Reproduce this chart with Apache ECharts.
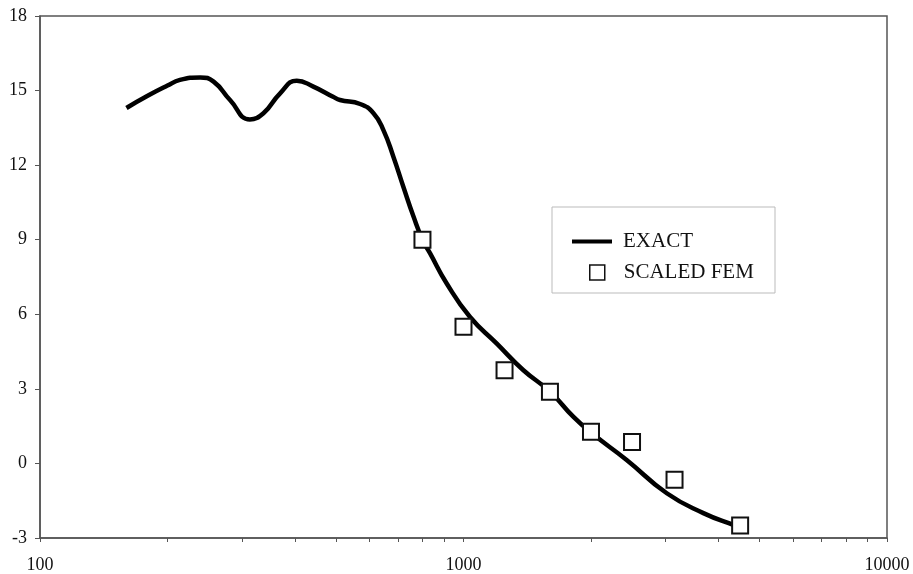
<!DOCTYPE html>
<html>
<head>
<meta charset="utf-8">
<script src="https://cdn.jsdelivr.net/npm/echarts@6/dist/echarts.min.js"></script>
<style>
  html, body { margin: 0; padding: 0; background: #fff; }
  #chart { width: 913px; height: 574px; }
</style>
</head>
<body>
<div id="chart"></div>
<script>
// Exact response curve: frequency (Hz) and level
const exactFreq = [160, 180, 200, 214, 239, 257, 281, 313, 337, 369, 404, 442, 492, 511, 570, 613, 647, 683, 721, 762, 800, 834, 912, 1035, 1197, 1383, 1600, 1816, 2010, 2428, 3020, 3685, 4335, 4500];
const exactLevel = [14.3, 14.8, 15.2, 15.43, 15.53, 15.36, 14.62, 13.84, 14.09, 14.89, 15.4, 15.16, 14.75, 14.62, 14.46, 14.09, 13.41, 12.34, 11.13, 9.93, 9.0, 8.45, 7.25, 5.9, 4.83, 3.76, 2.89, 1.88, 1.21, 0.14, -1.2, -2.0, -2.47, -2.55];

// Scaled FEM results
const femFreq = [800, 1000, 1250, 1600, 2000, 2500, 3150, 4500];
const femLevel = [9.0, 5.5, 3.75, 2.88, 1.27, 0.86, -0.66, -2.5];

// Axis ticks
const yTicks = [-3, 0, 3, 6, 9, 12, 15, 18];
const xMajorTicks = [100, 1000, 10000];
const xMinorTicks = [200, 300, 400, 500, 600, 700, 800, 900, 2000, 3000, 4000, 5000, 6000, 7000, 8000, 9000];

const seriesNames = ['EXACT', 'SCALED FEM'];

const FONT = '"Liberation Serif", "Times New Roman", serif';
const AXIS_COLOR = '#555';

const chart = echarts.init(document.getElementById('chart'), null, { renderer: 'canvas' });

chart.setOption({
  backgroundColor: '#fff',
  animation: false,
  grid: {
    left: 40, right: 26, top: 16, bottom: 36,
    show: true, borderColor: AXIS_COLOR, borderWidth: 1.5, backgroundColor: 'transparent'
  },
  graphic: [{
    type: 'rect',
    z: 3,
    shape: { x: 552, y: 207, width: 223, height: 86 },
    style: { fill: '#fff', stroke: '#bbb', lineWidth: 1 }
  }],
  legend: [{
    top: 226, left: 567,
    z: 5,
    itemWidth: 40, itemHeight: 4,
    textStyle: { fontFamily: FONT, fontSize: 21, lineHeight: 20, color: '#111', padding: [0, 0, 0, 6] },
    data: [{ name: seriesNames[0], icon: 'rect', itemStyle: { color: '#000', borderWidth: 0 } }]
  }, {
    top: 257, left: 584,
    z: 5,
    itemWidth: 15, itemHeight: 15,
    textStyle: { fontFamily: FONT, fontSize: 21, lineHeight: 20, color: '#111', padding: [0, 0, 0, 14] },
    data: [{ name: seriesNames[1], icon: 'rect', itemStyle: { color: '#fff', borderColor: '#111', borderWidth: 1.5 } }]
  }],
  xAxis: [{
    type: 'log',
    logBase: 10,
    min: xMajorTicks[0],
    max: xMajorTicks[xMajorTicks.length - 1],
    axisLine: { show: true, onZero: false, lineStyle: { color: AXIS_COLOR, width: 1.5 } },
    axisTick: { show: true, inside: false, length: 4, lineStyle: { color: AXIS_COLOR } },
    axisLabel: { fontFamily: FONT, fontSize: 18, color: '#111', margin: 18, formatter: v => String(v) },
    splitLine: { show: false },
    minorTick: { show: false }
  }, {
    // minor decade ticks, placed on the exponent scale
    type: 'value',
    position: 'bottom',
    min: 2, max: 4,
    axisLine: { show: false, onZero: false },
    axisTick: { show: true, length: 4, lineStyle: { color: AXIS_COLOR }, customValues: xMinorTicks.map(v => Math.log10(v)) },
    axisLabel: { show: false },
    splitLine: { show: false }
  }],
  yAxis: {
    type: 'value',
    min: yTicks[0],
    max: yTicks[yTicks.length - 1],
    interval: 3,
    axisLine: { show: true, onZero: false, lineStyle: { color: AXIS_COLOR, width: 1.5 } },
    axisTick: { show: true, inside: false, length: 5, lineStyle: { color: AXIS_COLOR } },
    axisLabel: { fontFamily: FONT, fontSize: 18, color: '#111', margin: 13 },
    splitLine: { show: false }
  },
  series: [{
    name: seriesNames[0],
    type: 'line',
    xAxisIndex: 0,
    smooth: 0.5,
    symbol: 'none',
    lineStyle: { color: '#000', width: 4.5 },
    itemStyle: { color: '#000' },
    data: exactFreq.map((f, i) => [f, exactLevel[i]]),
    z: 2
  }, {
    name: seriesNames[1],
    type: 'scatter',
    xAxisIndex: 0,
    symbol: 'rect',
    symbolSize: 16,
    itemStyle: { color: '#fff', borderColor: '#111', borderWidth: 2, opacity: 1 },
    data: femFreq.map((f, i) => [f, femLevel[i]]),
    z: 3
  }]
});
</script>
</body>
</html>
